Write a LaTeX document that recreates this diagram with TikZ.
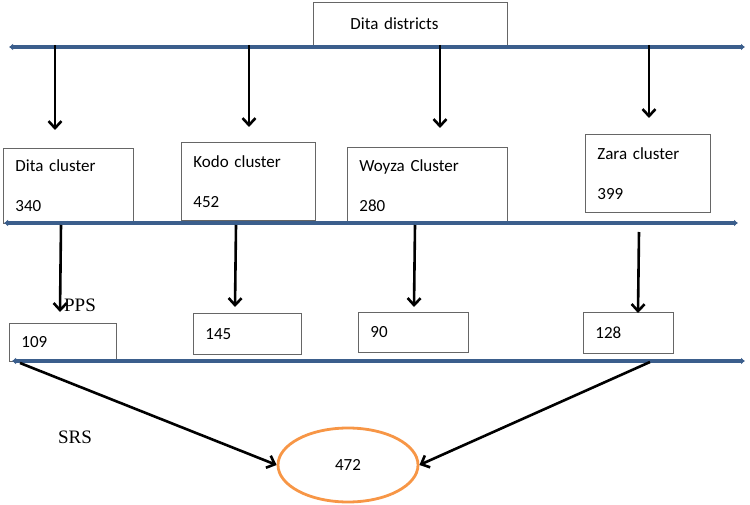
\documentclass[tikz,border=0pt]{standalone}
\usepackage{fontspec}
\setmainfont{Carlito}
\newfontfamily\timesfont{Liberation Serif}
\usetikzlibrary{arrows.meta}
\usetikzlibrary{shapes.geometric}
\definecolor{barblue}{RGB}{59,94,140}
\definecolor{ringorange}{RGB}{247,150,70}
\tikzset{
  bar/.style={line width=4.5pt, draw=barblue, {Latex[length=4pt,width=7pt]}-{Latex[length=4pt,width=7pt]}},
  down/.style={line width=2.6pt, -{Straight Barb[length=7pt,width=13pt]}},
  box/.style={draw=black!60, line width=0.9pt, fill=white, anchor=north west,
    align=left, inner xsep=12pt, font=\fontsize{17}{20}\selectfont},
  tag/.style={font=\timesfont\fontsize{19}{22}\selectfont},
}

\begin{document}
\begin{tikzpicture}[x=1pt,y=-1pt]
    \useasboundingbox (0,0) rectangle (750,505);

    % boxes
    \node[box, inner xsep=37pt, text width=120pt, minimum height=43pt] (dist) at (313,2) {Dita districts};
    \node[box, text width=106pt, minimum height=75pt] (dita) at (3,148) {Dita cluster\\[20pt]340};
    \node[box, text width=110pt, minimum height=78pt] (kodo) at (181,142) {Kodo cluster\\[20pt]452};
    \node[box, text width=136pt, minimum height=76pt] (woyza) at (347,147) {Woyza Cluster\\[20pt]280};
    \node[box, text width=101pt, minimum height=78pt] (zara) at (585,134) {Zara cluster\\[20pt]399};
    \node[box, text width=83pt, minimum height=38pt] (s109) at (9,323) {109};
    \node[box, text width=84pt, minimum height=41pt] (s145) at (193,313) {145};
    \node[box, text width=86pt, minimum height=40pt] (s90) at (358,312) {90};
    \node[box, text width=66pt, minimum height=41pt] (s128) at (583,312) {128};
    \node[ellipse, draw=ringorange, line width=2.8pt, minimum width=140pt, minimum height=74pt,
      font=\fontsize{17}{20}\selectfont] (total) at (348,465) {472};
    \node[tag] (pps) at (80,305) {PPS};
    \node[tag] (srs) at (75,437) {SRS};

    % bars
    \coordinate (l1w) at (9,47);   \coordinate (l1e) at (745,47);
    \coordinate (l2w) at (4,223);  \coordinate (l2e) at (738,223);
    \coordinate (l3w) at (12,361); \coordinate (l3e) at (745,361);
    \draw[bar] (l1w) -- (l1e);
    \draw[bar] (l2w) -- (l2e);
    \draw[bar] (l3w) -- (l3e);

    % districts to clusters
    \coordinate (a1) at (55,45);  \coordinate (a1e) at (55,130);
    \coordinate (a2) at (249,45); \coordinate (a2e) at (249,127);
    \coordinate (a3) at (440,45); \coordinate (a3e) at (440,128);
    \coordinate (a4) at (649,45); \coordinate (a4e) at (649,118);
    \draw[down] (a1) -- (a1e);
    \draw[down] (a2) -- (a2e);
    \draw[down] (a3) -- (a3e);
    \draw[down] (a4) -- (a4e);

    % clusters to PPS samples
    \coordinate (b1) at (61,225);  \coordinate (b1e) at (60,312);
    \coordinate (b2) at (236,225); \coordinate (b2e) at (235,307);
    \coordinate (b3) at (415,225); \coordinate (b3e) at (414,307);
    \coordinate (b4) at (639,232); \coordinate (b4e) at (638,313);
    \draw[down] (b1) -- (b1e);
    \draw[down] (b2) -- (b2e);
    \draw[down] (b3) -- (b3e);
    \draw[down] (b4) -- (b4e);

    % SRS
    \coordinate (c1) at (20,363);
    \coordinate (c2) at (650,362);
    \draw[down] (c1) -- (total.west);
    \draw[down] (c2) -- (total.east);
\end{tikzpicture}
\end{document}
